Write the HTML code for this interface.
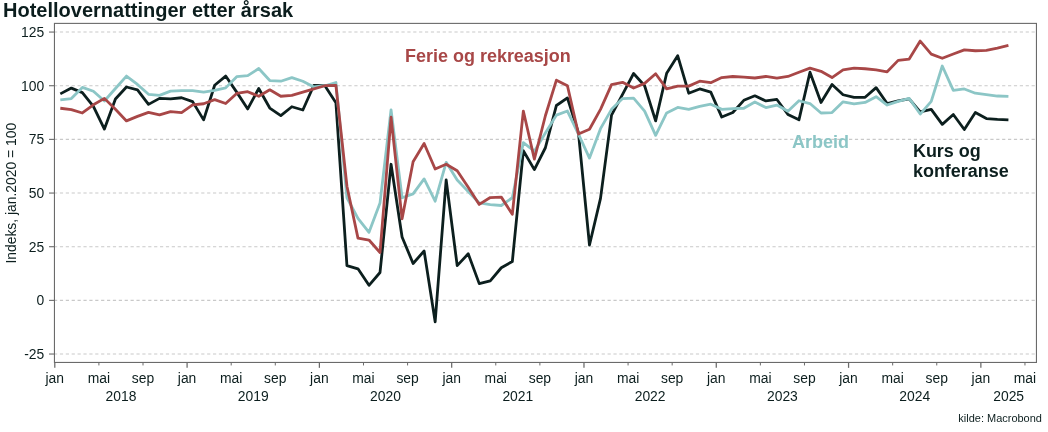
<!DOCTYPE html>
<html><head><meta charset="utf-8"><title>Hotellovernattinger etter årsak</title>
<style>
html,body{margin:0;padding:0;background:#fff;overflow:hidden;}
svg{display:block;will-change:transform;}
text{font-family:"Liberation Sans",sans-serif;fill:#0c1e1e;}
.t{font-size:13.89px;}
.b{font-size:18px;font-weight:bold;}
</style></head><body>
<svg width="1048" height="432" viewBox="0 0 1048 432">
<rect width="1048" height="432" fill="#ffffff"/>
<text x="3.05" y="17.2" style="font-size:20px;font-weight:bold;fill:#0b1d1d">Hotellovernattinger etter årsak</text>
<line x1="54.45" x2="1036.45" y1="32.06" y2="32.06" stroke="#c9c9c9" stroke-width="1.05" stroke-dasharray="3.2 2.689" stroke-dashoffset="0.45"/>
<line x1="54.45" x2="1036.45" y1="85.72" y2="85.72" stroke="#c9c9c9" stroke-width="1.05" stroke-dasharray="3.2 2.689" stroke-dashoffset="0.45"/>
<line x1="54.45" x2="1036.45" y1="139.38" y2="139.38" stroke="#c9c9c9" stroke-width="1.05" stroke-dasharray="3.2 2.689" stroke-dashoffset="0.45"/>
<line x1="54.45" x2="1036.45" y1="193.05" y2="193.05" stroke="#c9c9c9" stroke-width="1.05" stroke-dasharray="3.2 2.689" stroke-dashoffset="0.45"/>
<line x1="54.45" x2="1036.45" y1="246.71" y2="246.71" stroke="#c9c9c9" stroke-width="1.05" stroke-dasharray="3.2 2.689" stroke-dashoffset="0.45"/>
<line x1="54.45" x2="1036.45" y1="300.37" y2="300.37" stroke="#c9c9c9" stroke-width="1.05" stroke-dasharray="3.2 2.689" stroke-dashoffset="0.45"/>
<line x1="54.45" x2="1036.45" y1="354.03" y2="354.03" stroke="#c9c9c9" stroke-width="1.05" stroke-dasharray="3.2 2.689" stroke-dashoffset="0.45"/>
<g fill="none" stroke-width="2.8" stroke-linejoin="round" stroke-linecap="butt">
<path d="M60.31,93.88 L71.34,88.08 L82.36,92.59 L93.39,106.33 L104.41,129.08 L115.43,99.03 L126.46,87.01 L137.48,89.80 L148.51,104.39 L159.53,98.38 L170.56,98.81 L181.58,97.74 L192.61,101.60 L203.63,119.85 L214.66,85.29 L225.68,76.06 L236.70,92.16 L247.73,108.90 L258.75,88.51 L269.78,108.04 L280.80,115.56 L291.83,106.76 L302.85,109.98 L313.88,85.29 L324.90,85.72 L335.92,102.68 L346.95,265.60 L357.97,268.82 L369.00,285.34 L380.02,272.47 L391.05,164.28 L402.07,237.05 L413.10,263.45 L424.12,251.00 L435.15,321.83 L446.17,179.95 L457.19,265.60 L468.22,253.79 L479.24,283.63 L490.27,280.84 L501.29,267.74 L512.32,261.52 L523.34,150.76 L534.37,169.65 L545.39,147.75 L556.41,105.47 L567.44,97.96 L578.46,132.94 L589.49,244.99 L600.51,198.41 L611.54,115.13 L622.56,94.31 L633.59,73.48 L644.61,85.72 L655.64,120.92 L666.66,73.27 L677.68,55.67 L688.71,93.23 L699.73,88.94 L710.76,92.16 L721.78,117.06 L732.81,112.55 L743.83,100.32 L754.86,95.81 L765.88,100.96 L776.90,99.46 L787.93,114.48 L798.95,119.85 L809.98,72.20 L821.00,102.46 L832.03,84.43 L843.05,94.74 L854.08,97.31 L865.10,97.31 L876.13,87.65 L887.15,103.54 L898.17,100.96 L909.20,98.81 L920.22,111.91 L931.25,109.33 L942.27,124.36 L953.30,114.48 L964.32,129.51 L975.35,112.55 L986.37,118.56 L997.39,119.42 L1008.42,119.85" stroke="#0c1f1e"/>
<path d="M60.31,99.89 L71.34,98.60 L82.36,87.44 L93.39,91.30 L104.41,100.96 L115.43,88.51 L126.46,76.06 L137.48,84.43 L148.51,94.31 L159.53,95.38 L170.56,91.09 L181.58,90.66 L192.61,90.66 L203.63,92.16 L214.66,90.44 L225.68,87.87 L236.70,76.70 L247.73,75.63 L258.75,68.55 L269.78,80.57 L280.80,81.21 L291.83,77.56 L302.85,81.21 L313.88,87.01 L324.90,85.72 L335.92,82.50 L346.95,197.77 L357.97,218.37 L369.00,232.33 L380.02,202.92 L391.05,109.98 L402.07,197.77 L413.10,193.90 L424.12,178.88 L435.15,201.20 L446.17,162.35 L457.19,179.95 L468.22,191.54 L479.24,202.92 L490.27,204.64 L501.29,205.49 L512.32,197.77 L523.34,142.60 L534.37,151.19 L545.39,132.94 L556.41,115.13 L567.44,111.05 L578.46,134.02 L589.49,158.06 L600.51,128.65 L611.54,109.33 L622.56,98.60 L633.59,98.17 L644.61,111.05 L655.64,135.30 L666.66,112.98 L677.68,107.40 L688.71,109.33 L699.73,106.33 L710.76,104.18 L721.78,109.33 L732.81,108.69 L743.83,108.26 L754.86,102.03 L765.88,107.61 L776.90,105.04 L787.93,111.26 L798.95,100.75 L809.98,103.54 L821.00,112.98 L832.03,112.55 L843.05,101.82 L854.08,103.97 L865.10,102.46 L876.13,96.67 L887.15,105.04 L898.17,101.39 L909.20,98.38 L920.22,114.05 L931.25,101.39 L942.27,65.97 L953.30,90.44 L964.32,88.94 L975.35,93.23 L986.37,94.52 L997.39,96.02 L1008.42,96.45" stroke="#8cc6c6"/>
<path d="M60.31,108.26 L71.34,109.55 L82.36,112.98 L93.39,104.82 L104.41,98.38 L115.43,109.33 L126.46,120.92 L137.48,116.41 L148.51,112.34 L159.53,114.91 L170.56,111.69 L181.58,112.55 L192.61,104.82 L203.63,103.75 L214.66,99.67 L225.68,103.54 L236.70,93.45 L247.73,91.73 L258.75,96.24 L269.78,89.80 L280.80,96.24 L291.83,95.38 L302.85,92.16 L313.88,88.94 L324.90,85.72 L335.92,85.51 L346.95,186.18 L357.97,238.12 L369.00,240.05 L380.02,252.50 L391.05,117.27 L402.07,218.80 L413.10,161.71 L424.12,143.46 L435.15,169.00 L446.17,164.28 L457.19,170.72 L468.22,187.25 L479.24,204.42 L490.27,197.55 L501.29,197.12 L512.32,214.30 L523.34,111.05 L534.37,159.13 L545.39,115.77 L556.41,80.14 L567.44,85.72 L578.46,134.02 L589.49,129.29 L600.51,109.33 L611.54,84.65 L622.56,82.29 L633.59,88.08 L644.61,83.36 L655.64,73.70 L666.66,88.94 L677.68,86.15 L688.71,86.15 L699.73,81.21 L710.76,82.71 L721.78,77.56 L732.81,76.49 L743.83,77.13 L754.86,77.99 L765.88,76.49 L776.90,78.21 L787.93,76.49 L798.95,72.20 L809.98,68.12 L821.00,71.34 L832.03,77.56 L843.05,69.84 L854.08,68.12 L865.10,68.76 L876.13,69.84 L887.15,71.77 L898.17,60.39 L909.20,59.10 L920.22,41.07 L931.25,54.17 L942.27,58.24 L953.30,53.95 L964.32,49.87 L975.35,50.73 L986.37,50.30 L997.39,48.16 L1008.42,45.37" stroke="#a84747"/>
</g>
<rect x="54.45" y="23.4" width="982.0" height="339.05" fill="none" stroke="#6a6a6a" stroke-width="1.1"/>
<line x1="49.05" x2="54.45" y1="32.06" y2="32.06" stroke="#6a6a6a" stroke-width="1.1"/>
<text class="t" x="44.2" y="36.91" text-anchor="end">125</text>
<line x1="49.05" x2="54.45" y1="85.72" y2="85.72" stroke="#6a6a6a" stroke-width="1.1"/>
<text class="t" x="44.2" y="90.57" text-anchor="end">100</text>
<line x1="49.05" x2="54.45" y1="139.38" y2="139.38" stroke="#6a6a6a" stroke-width="1.1"/>
<text class="t" x="44.2" y="144.23" text-anchor="end">75</text>
<line x1="49.05" x2="54.45" y1="193.05" y2="193.05" stroke="#6a6a6a" stroke-width="1.1"/>
<text class="t" x="44.2" y="197.90" text-anchor="end">50</text>
<line x1="49.05" x2="54.45" y1="246.71" y2="246.71" stroke="#6a6a6a" stroke-width="1.1"/>
<text class="t" x="44.2" y="251.56" text-anchor="end">25</text>
<line x1="49.05" x2="54.45" y1="300.37" y2="300.37" stroke="#6a6a6a" stroke-width="1.1"/>
<text class="t" x="44.2" y="305.22" text-anchor="end">0</text>
<line x1="49.05" x2="54.45" y1="354.03" y2="354.03" stroke="#6a6a6a" stroke-width="1.1"/>
<text class="t" x="44.2" y="358.88" text-anchor="end">-25</text>
<text class="t" transform="translate(15.8,193.2) rotate(-90)" text-anchor="middle">Indeks, jan.2020 = 100</text>
<line x1="54.80" x2="54.80" y1="362.45" y2="367.85" stroke="#6a6a6a" stroke-width="1.25"/>
<text class="t" x="54.80" y="382.6" text-anchor="middle">jan</text>
<line x1="98.90" x2="98.90" y1="362.45" y2="365.45" stroke="#6a6a6a" stroke-width="1.0"/>
<text class="t" x="98.90" y="382.6" text-anchor="middle">mai</text>
<line x1="143.00" x2="143.00" y1="362.45" y2="365.45" stroke="#6a6a6a" stroke-width="1.0"/>
<text class="t" x="143.00" y="382.6" text-anchor="middle">sep</text>
<text class="t" x="120.95" y="400.5" text-anchor="middle">2018</text>
<line x1="187.09" x2="187.09" y1="362.45" y2="367.85" stroke="#6a6a6a" stroke-width="1.25"/>
<text class="t" x="187.09" y="382.6" text-anchor="middle">jan</text>
<line x1="231.19" x2="231.19" y1="362.45" y2="365.45" stroke="#6a6a6a" stroke-width="1.0"/>
<text class="t" x="231.19" y="382.6" text-anchor="middle">mai</text>
<line x1="275.29" x2="275.29" y1="362.45" y2="365.45" stroke="#6a6a6a" stroke-width="1.0"/>
<text class="t" x="275.29" y="382.6" text-anchor="middle">sep</text>
<text class="t" x="253.24" y="400.5" text-anchor="middle">2019</text>
<line x1="319.39" x2="319.39" y1="362.45" y2="367.85" stroke="#6a6a6a" stroke-width="1.25"/>
<text class="t" x="319.39" y="382.6" text-anchor="middle">jan</text>
<line x1="363.49" x2="363.49" y1="362.45" y2="365.45" stroke="#6a6a6a" stroke-width="1.0"/>
<text class="t" x="363.49" y="382.6" text-anchor="middle">mai</text>
<line x1="407.58" x2="407.58" y1="362.45" y2="365.45" stroke="#6a6a6a" stroke-width="1.0"/>
<text class="t" x="407.58" y="382.6" text-anchor="middle">sep</text>
<text class="t" x="385.53" y="400.5" text-anchor="middle">2020</text>
<line x1="451.68" x2="451.68" y1="362.45" y2="367.85" stroke="#6a6a6a" stroke-width="1.25"/>
<text class="t" x="451.68" y="382.6" text-anchor="middle">jan</text>
<line x1="495.78" x2="495.78" y1="362.45" y2="365.45" stroke="#6a6a6a" stroke-width="1.0"/>
<text class="t" x="495.78" y="382.6" text-anchor="middle">mai</text>
<line x1="539.88" x2="539.88" y1="362.45" y2="365.45" stroke="#6a6a6a" stroke-width="1.0"/>
<text class="t" x="539.88" y="382.6" text-anchor="middle">sep</text>
<text class="t" x="517.83" y="400.5" text-anchor="middle">2021</text>
<line x1="583.98" x2="583.98" y1="362.45" y2="367.85" stroke="#6a6a6a" stroke-width="1.25"/>
<text class="t" x="583.98" y="382.6" text-anchor="middle">jan</text>
<line x1="628.07" x2="628.07" y1="362.45" y2="365.45" stroke="#6a6a6a" stroke-width="1.0"/>
<text class="t" x="628.07" y="382.6" text-anchor="middle">mai</text>
<line x1="672.17" x2="672.17" y1="362.45" y2="365.45" stroke="#6a6a6a" stroke-width="1.0"/>
<text class="t" x="672.17" y="382.6" text-anchor="middle">sep</text>
<text class="t" x="650.12" y="400.5" text-anchor="middle">2022</text>
<line x1="716.27" x2="716.27" y1="362.45" y2="367.85" stroke="#6a6a6a" stroke-width="1.25"/>
<text class="t" x="716.27" y="382.6" text-anchor="middle">jan</text>
<line x1="760.37" x2="760.37" y1="362.45" y2="365.45" stroke="#6a6a6a" stroke-width="1.0"/>
<text class="t" x="760.37" y="382.6" text-anchor="middle">mai</text>
<line x1="804.47" x2="804.47" y1="362.45" y2="365.45" stroke="#6a6a6a" stroke-width="1.0"/>
<text class="t" x="804.47" y="382.6" text-anchor="middle">sep</text>
<text class="t" x="782.42" y="400.5" text-anchor="middle">2023</text>
<line x1="848.56" x2="848.56" y1="362.45" y2="367.85" stroke="#6a6a6a" stroke-width="1.25"/>
<text class="t" x="848.56" y="382.6" text-anchor="middle">jan</text>
<line x1="892.66" x2="892.66" y1="362.45" y2="365.45" stroke="#6a6a6a" stroke-width="1.0"/>
<text class="t" x="892.66" y="382.6" text-anchor="middle">mai</text>
<line x1="936.76" x2="936.76" y1="362.45" y2="365.45" stroke="#6a6a6a" stroke-width="1.0"/>
<text class="t" x="936.76" y="382.6" text-anchor="middle">sep</text>
<text class="t" x="914.71" y="400.5" text-anchor="middle">2024</text>
<line x1="980.86" x2="980.86" y1="362.45" y2="367.85" stroke="#6a6a6a" stroke-width="1.25"/>
<text class="t" x="980.86" y="382.6" text-anchor="middle">jan</text>
<line x1="1024.96" x2="1024.96" y1="362.45" y2="365.45" stroke="#6a6a6a" stroke-width="1.0"/>
<text class="t" x="1024.96" y="382.6" text-anchor="middle">mai</text>
<text class="t" x="1008.65" y="400.5" text-anchor="middle">2025</text>
<text class="b" transform="translate(404.95,61.5) scale(1,1.035)" style="fill:#a84747">Ferie og rekreasjon</text>
<text class="b" transform="translate(792.0,148.25) scale(1,1.035)" style="fill:#8cc6c6">Arbeid</text>
<text class="b" transform="translate(912.9,157.0) scale(1,1.035)" style="fill:#0c1f1e">Kurs og</text>
<text class="b" transform="translate(912.9,177.2) scale(1,1.035)" style="fill:#0c1f1e">konferanse</text>
<text x="1041.9" y="422.35" text-anchor="end" style="font-size:10.98px">kilde: Macrobond</text>
</svg></body></html>
